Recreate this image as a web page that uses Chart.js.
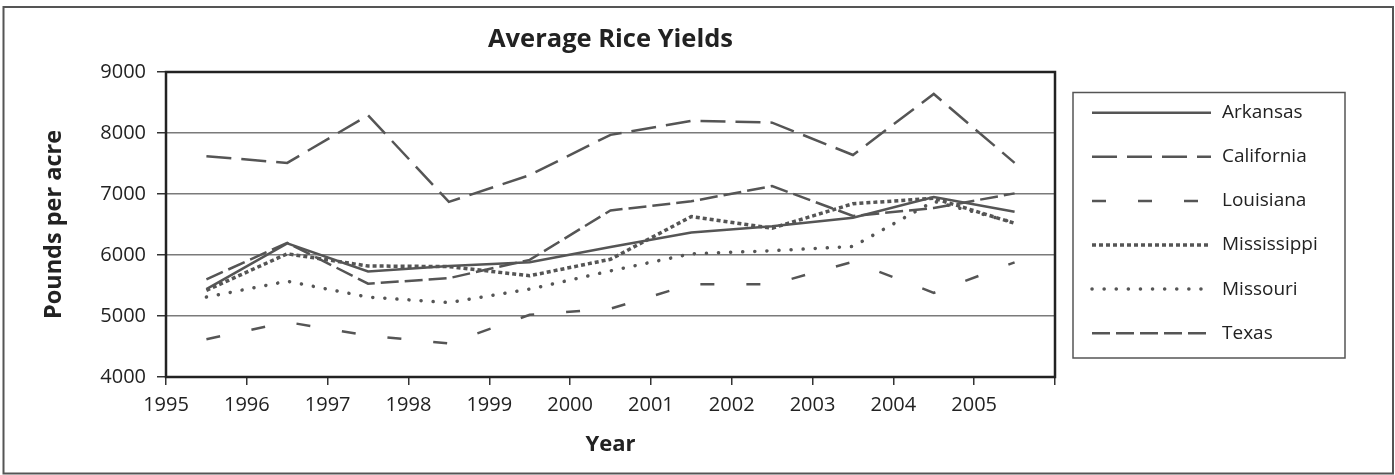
<!DOCTYPE html>
<html>
<head>
<meta charset="utf-8">
<script src="https://cdn.jsdelivr.net/npm/chart.js@4"></script>
<style>
  body { margin: 0; background: #fff; }
  #wrap { width: 1395px; height: 475px; }
</style>
</head>
<body>
<div id="wrap"><canvas id="myChart" width="1395" height="475"></canvas></div>
<script>
// years on the axis, one point per year (plotted in the middle of each year)
const years = [1995, 1996, 1997, 1998, 1999, 2000, 2001, 2002, 2003, 2004, 2005]
const seriesNames = ["Arkansas", "California", "Louisiana", "Mississippi", "Missouri", "Texas"]

const arkansas    = [5440, 6190, 5730, 5820, 5880, 6130, 6370, 6470, 6610, 6950, 6710]
const california  = [7620, 7510, 8290, 6870, 7310, 7970, 8200, 8170, 7640, 8640, 7510]
const louisiana   = [4620, 4900, 4680, 4550, 5020, 5120, 5520, 5520, 5890, 5380, 5880]
const mississippi = [5420, 6020, 5820, 5810, 5660, 5930, 6630, 6440, 6840, 6930, 6520]
const missouri    = [5310, 5570, 5310, 5220, 5440, 5740, 6020, 6070, 6140, 6880, 6530]
const texas       = [5600, 6200, 5530, 5620, 5920, 6730, 6880, 7130, 6640, 6770, 7010]

const yTicks = [4000, 5000, 6000, 7000, 8000, 9000]

const lineColor = "#555555"
const fontName = "'Open Sans', sans-serif"

// dash styles, one per state
const styles = [
  { dash: [],       width: 2.5, cap: "butt" },
  { dash: [25, 10], width: 2.5, cap: "butt" },
  { dash: [14, 32], width: 2.5, cap: "butt" },
  { dash: [4, 3],   width: 3.5, cap: "butt" },
  { dash: [0.1, 12], width: 3.5, cap: "round" },
  { dash: [18, 6],  width: 2.5, cap: "butt" }
]

const allData = [arkansas, california, louisiana, mississippi, missouri, texas]

function makeSet(name, i){
  return {
    label: name,
    data: allData[i].map(function(v, k){ return { x: years[k] + 0.5, y: v } }),
    borderColor: lineColor,
    backgroundColor: lineColor,
    borderWidth: styles[i].width,
    borderDash: styles[i].dash,
    borderCapStyle: styles[i].cap,
    pointRadius: 0,
    tension: 0,
    fill: false
  }
}

// outer frame, plot frame and the boxed legend
const frames = {
  id: "frames",
  beforeDraw(chart){
    const c = chart.ctx
    c.save()
    c.fillStyle = "#fff"
    c.fillRect(0, 0, chart.width, chart.height)
    c.restore()
  },
  afterDraw(chart){
    const c = chart.ctx
    const a = chart.chartArea
    c.save()
    c.strokeStyle = "#555"
    c.lineWidth = 2
    c.strokeRect(3.5, 7, 1389.5, 466.5)

    c.strokeStyle = "#222"
    c.lineWidth = 2.5
    c.strokeRect(a.left, a.top, a.right - a.left, a.bottom - a.top)

    // legend
    c.strokeStyle = "#555"
    c.lineWidth = 1.5
    c.strokeRect(1073, 92.5, 272, 265.5)
    c.font = "19px " + fontName
    c.textBaseline = "middle"
    c.textAlign = "left"
    chart.data.datasets.forEach(function(ds, i){
      const y = 112.7 + i * 44.1
      c.strokeStyle = lineColor
      c.lineWidth = ds.borderWidth
      c.lineCap = ds.borderCapStyle
      c.setLineDash(ds.borderDash)
      c.beginPath()
      c.moveTo(1092, y)
      c.lineTo(1211, y)
      c.stroke()
      c.setLineDash([])
      c.fillStyle = "#222"
      c.fillText(ds.label, 1222, y)
    })
    c.restore()
  }
}

const chart = new Chart("myChart", {
  type: "line",
  data: { datasets: seriesNames.map(makeSet) },
  plugins: [frames],
  options: {
    responsive: false,
    animation: false,
    layout: { padding: { top: 0, right: 340, bottom: 0, left: 0 } },
    plugins: {
      legend: { display: false },
      tooltip: { enabled: false },
      title: {
        display: true,
        text: "Average Rice Yields",
        fullSize: false,
        color: "#222",
        font: { family: fontName, size: 25.5, weight: "bold", lineHeight: 1.2 },
        padding: { top: 24, bottom: 17.4 }
      }
    },
    scales: {
      x: {
        type: "linear",
        min: years[0],
        max: years[years.length - 1] + 1,
        afterFit(s){ s.height = 98 },
        ticks: {
          stepSize: 1,
          color: "#222",
          padding: 8,
          font: { family: fontName, size: 20 },
          callback: function(v){ return v > years[years.length - 1] ? "" : String(v) }
        },
        afterBuildTicks(s){
          s.ticks = years.concat([years[years.length - 1] + 1]).map(function(v){ return { value: v } })
        },
        grid: { drawOnChartArea: false, tickLength: 8, tickColor: "#333", lineWidth: 1.5 },
        border: { display: false },
        title: {
          display: true,
          text: "Year",
          color: "#222",
          font: { family: fontName, size: 22, weight: "bold", lineHeight: 1.2 },
          padding: { top: 0, bottom: 17 }
        }
      },
      y: {
        min: yTicks[0],
        max: yTicks[yTicks.length - 1],
        afterFit(s){ s.width = 166 },
        afterBuildTicks(s){
          s.ticks = yTicks.map(function(v){ return { value: v } })
        },
        ticks: {
          color: "#222",
          padding: 11,
          font: { family: fontName, size: 20 },
          callback: function(v){ return String(v) }
        },
        grid: { color: "#7a7a7a", lineWidth: 1.5, tickLength: 9, tickColor: "#333" },
        border: { display: false },
        title: {
          display: true,
          text: "Pounds per acre",
          color: "#222",
          font: { family: fontName, size: 23.5, weight: "bold", lineHeight: 1.2 },
          padding: { top: 40, bottom: 0 }
        }
      }
    }
  }
})
</script>
</body>
</html>
